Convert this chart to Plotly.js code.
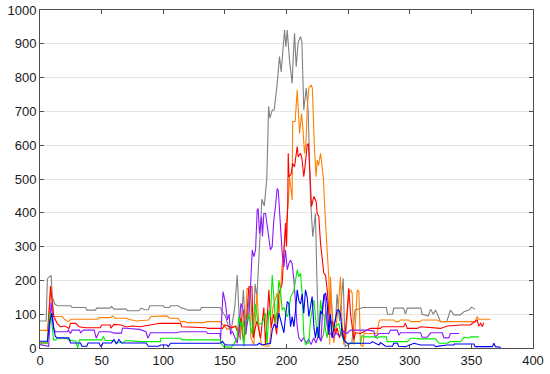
<!DOCTYPE html>
<html>
<head>
<meta charset="utf-8">
<script src="https://cdn.plot.ly/plotly-3.0.1.min.js"></script>
<style>html,body{margin:0;padding:0;background:#fff;}#chart{width:550px;height:374px;}</style>
</head>
<body>
<div id="chart"></div>
<script>
const grayX = [0,5,6,8,9,10,12,14,25,26,37,38,45,46,57,58,60,70,71,80,82,85,88,89,100,101,105,106,112,115,117,120,130,131,146,148,150.5,153,155,158,160,162.5,165,167,170.5,173,174.5,176,178,180,182,184,185.5,186.5,188.5,190,192.4,194.3,195.7,197.3,198.4,199.5,200.6,202.4,204.6,205.5,206.5,207.9,209.5,211.4,212.5,214,216,217.6,219,219.5,221.3,223.5,224.5,226,228,230,232,234,236,238,240,241,243,245,246,247.5,250,253,255.5,262,281,282,286,287,295,296.5,298,309,310,315,317,319,321,325,330,333,336,341,344,348,350,353];
const grayY = [80,80,205,210,215,150,130,125,125,120,120,112,112,118,118,123,115,115,110,110,118,113,113,125,125,120,120,125,125,118,117,112,112,120,120,107,93,63,50,120,216,24,172,40,181,30,190,150,320,440,420,500,715,680,704,704,780,862,817,911,941,891,941,852,783,862,931,832,906,921,906,704,769,700,530,438,329,398,231,33,20,40,110,40,160,60,90,160,80,180,206,5,10,15,112,120,120,100,100,118,118,100,118,118,100,95,115,100,112,78,78,112,98,98,107,112,121,115];

const orangeX = [0,6,9,11,18,20,23,25,47,48,57,59,61,70,72,78,88,90,103,105,112,114,118,119,133,135,146,148,152,155,160,162,164,166,168,170,171,173.5,176,178,180,183,185.7,187,189,192.4,194,196.5,197.9,199.7,201.4,202.5,203.5,204.6,205,207,208.7,210.6,212.2,213.2,214.6,215.8,216.8,218,220,221,222.5,224,225,226,227.6,228.7,230,231,232.2,234.4,235,235.7,237,238.4,240,242,243.8,245,246.5,248,250.6,252,253.3,254.6,256,257.4,258.7,260,262,263,273.5,275,276,287,288.4,291,292.5,299,300.6,308.7,310,322,325,353,354.7,356,365.5];
const orangeY = [52,52,183,93,93,85,78,85,85,90,90,95,88,88,85,80,83,93,95,88,88,78,78,75,75,78,78,70,55,63,63,30,110,40,177,170,30,10,162,40,10,5,5,38,120,162,100,250,290,360,428,507,480,438,670,670,763,635,694,655,576,605,704,768,778,768,605,507,556,540,576,536,500,414,329,201,10,211,100,15,60,120,211,80,10,30,162,172,162,10,80,172,167,10,4,43,43,78,83,83,78,78,83,83,78,78,83,83,78,78,93,85,85];

const redX = [0,6,8.5,9.9,11.2,13.9,16.6,20,23.5,24.8,29,31.7,37,49,50,57,57.6,60,66,70,75,81.5,89,97,114,115,135,136,148,150,156,158.6,161,163,165,167,169.5,172,173,176,179,181.6,183,185.7,187.5,189.7,192,193.8,196.5,198,199.2,200,201,201.4,202,203.8,205,206.5,207.5,208.7,209.5,211.4,212.5,214,215,216.8,217.8,218.4,219,220.3,222.2,224.1,224.9,226.2,227.6,229,230.3,231.7,233,234.4,236,237,239.8,241,243,245,247,249,250.5,252,254.6,256,260,262.7,268,276,277.6,295,296.5,298,306,308.7,325,330.4,341,349,350.7,354.7,356,357.5,359,360];
const redY = [15,15,183,132,93,73,63,65,58,73,73,63,60,60,68,68,59,70,68,62,65,63,68,73,73,63,60,58,58,68,60,65,40,90,20,60,181,181,30,80,30,120,10,172,60,100,40,160,191,281,370,300,430,576,507,515,546,536,566,596,566,576,562,507,536,601,605,566,507,418,448,433,398,390,310,260,221,215,172,103,70,80,40,60,30,60,20,100,177,100,25,45,43,48,58,58,63,63,73,58,58,63,58,65,68,68,73,83,65,73,63,75];

const purpleX = [0,5,7,9,10,11.2,12.5,22,23,24.8,26,32,33,35,44,45.6,48,57,60,66,67,81,86,87.5,89.6,111,114,135,136,146,146.5,148.5,150.5,152,153.5,154.6,156,158,160,161.3,163,165,166.8,168,169.5,170.8,172.2,173.5,174.9,176.2,177,178.1,179.7,180.5,181.6,183,184.3,186,187,188.4,189.7,191.1,192.4,193.3,194,195.2,196.5,197.9,199.2,200.6,201.9,203.3,204.6,206,207.3,208.7,210,212,214,216,218,220,222,224,226,228,229.5,231,232.5,234,235.7,238,240,243,246,249,252,262.8,265.5,270.9,272,275,283,284.4,289.8,291.2,292.5,308.8,310,314.2,317,326.4,327.7,331.7,333,340];
const purpleY = [10,5,5,135,93,58,48,48,53,43,53,53,45,53,53,29,48,48,44,44,59,55,48,29,45,45,48,48,43,43,24,167,132,83,100,40,50,33,14,50,132,110,40,70,100,181,290,270,290,408,413,339,388,330,398,398,359,320,290,300,379,420,472,467,420,329,280,240,290,231,250,260,250,201,132,63,30,20,30,15,25,10,30,15,40,20,130,157,80,40,43,30,45,35,50,43,53,53,53,50,33,43,43,53,53,38,45,45,32,32,45,45,30,30,43,43];

const greenX = [0,6,8,9.5,11,13,13.9,21.7,23,29,30.6,32,50,51.4,53,60,62,68,70,81.5,97.7,98,114,115,146,147,149,155,157,160,161.3,163,164,165.4,167,169.5,171,172.2,174.9,177,180.3,183,184.3,185.7,187,188.4,189.7,191.1,192.4,193.8,195.2,196.5,198,199.5,201,203.3,206,207.3,208.7,210,211.4,212.7,214,215.4,217,218.1,219.5,222.2,223.5,224.9,226.2,227.6,229,230.3,231.7,233,234.4,237,239.8,242.5,244,246.5,249.2,252,260,261.4,262.8,272,273.6,275,281,281.7,298,299.3,300.6,306,307.4,321,322.3,323.6,330.4,333,341,342.6,344,348,349.3,356];
const greenY = [15,15,105,80,24,24,29,29,24,20,0,24,24,34,22,22,15,18,22,19,19,29,29,24,24,14,4,2,10,30,93,63,80,5,75,100,60,40,130,70,73,103,10,112,93,216,152,73,112,201,170,112,120,100,93,150,170,201,231,211,221,160,40,10,14,14,83,142,100,40,30,142,100,100,53,30,80,63,63,73,43,24,14,14,14,38,33,33,29,33,33,19,19,24,29,29,27,27,22,14,14,19,19,24,32,29,33,33];

const blueX = [0,6,8,9.5,11,12.5,13.9,23.4,24.8,32.9,34,38,39,48,49,50,51,58,60,62,64,66,86,88,96,98,103,104,106,146,148,150,152,176,178,180,187,188.4,190,191.1,192.4,193.8,195.2,196.5,197.9,199.2,200.6,201.9,203.3,204.6,206,207.3,208.7,210,211.4,212.7,214,215.4,216.8,218.1,219.5,220.8,222.2,223.5,224.9,226.2,227.6,229,230.3,231.7,233,234.4,235.7,237,238.4,239.8,241.1,242.5,243.8,245.2,246.5,249.2,257.4,268.2,269.5,272,275,276.3,280.3,286,287,290,291,296.6,300.6,303.5,308.8,319.6,321,325,330,335.8,336,352,353,367,368.3,369.5,374];
const blueY = [20,20,80,103,60,34,30,30,15,15,5,5,15,15,5,5,15,15,25,12,25,15,15,5,5,9,9,4,14,14,20,10,9,9,14,9,14,53,70,65,60,103,80,63,45,93,137,132,63,93,63,110,172,140,130,160,103,172,150,93,120,152,63,30,63,30,110,100,157,162,132,43,100,30,60,93,112,112,100,43,24,14,14,14,19,14,9,16,5,5,14,14,5,4,9,14,9,9,4,6,9,9,12,12,4,4,14,4,2];

const tickVals = [0,50,100,150,200,250,300,350,400];
const yTickVals = [0,100,200,300,400,500,600,700,800,900,1000];

const series = [
  {name:'gray', x:grayX, y:grayY, color:'#808080'},
  {name:'orange', x:orangeX, y:orangeY, color:'#ff8000'},
  {name:'red', x:redX, y:redY, color:'#ff0000'},
  {name:'purple', x:purpleX, y:purpleY, color:'#8c1aff'},
  {name:'green', x:greenX, y:greenY, color:'#00ee00'},
  {name:'blue', x:blueX, y:blueY, color:'#0000ff'}
];

const traces = series.map(s => ({
  type:'scatter', mode:'lines', x:s.x, y:s.y, name:s.name,
  line:{color:s.color, width:1.1}, hoverinfo:'skip'
}));

const axisCommon = {
  showline:true, linecolor:'#4d4d4d', linewidth:1, mirror:'ticks',
  ticks:'inside', ticklen:4, tickcolor:'#4d4d4d', tickwidth:1,
  zeroline:false, tickfont:{family:'Liberation Sans, Arial, sans-serif', size:13, color:'#1a1a1a'}
};

const layout = {
  width:550, height:374,
  margin:{l:40, r:17, t:10, b:26, pad:0},
  paper_bgcolor:'#ffffff', plot_bgcolor:'#ffffff',
  showlegend:false,
  xaxis:Object.assign({}, axisCommon, {range:[0,400], tickvals:tickVals, showgrid:false}),
  yaxis:Object.assign({}, axisCommon, {range:[0,1000], tickvals:yTickVals, showgrid:true, gridcolor:'#e3e3e3', gridwidth:1})
};

Plotly.newPlot('chart', traces, layout, {staticPlot:true, displayModeBar:false});
</script>
</body>
</html>
